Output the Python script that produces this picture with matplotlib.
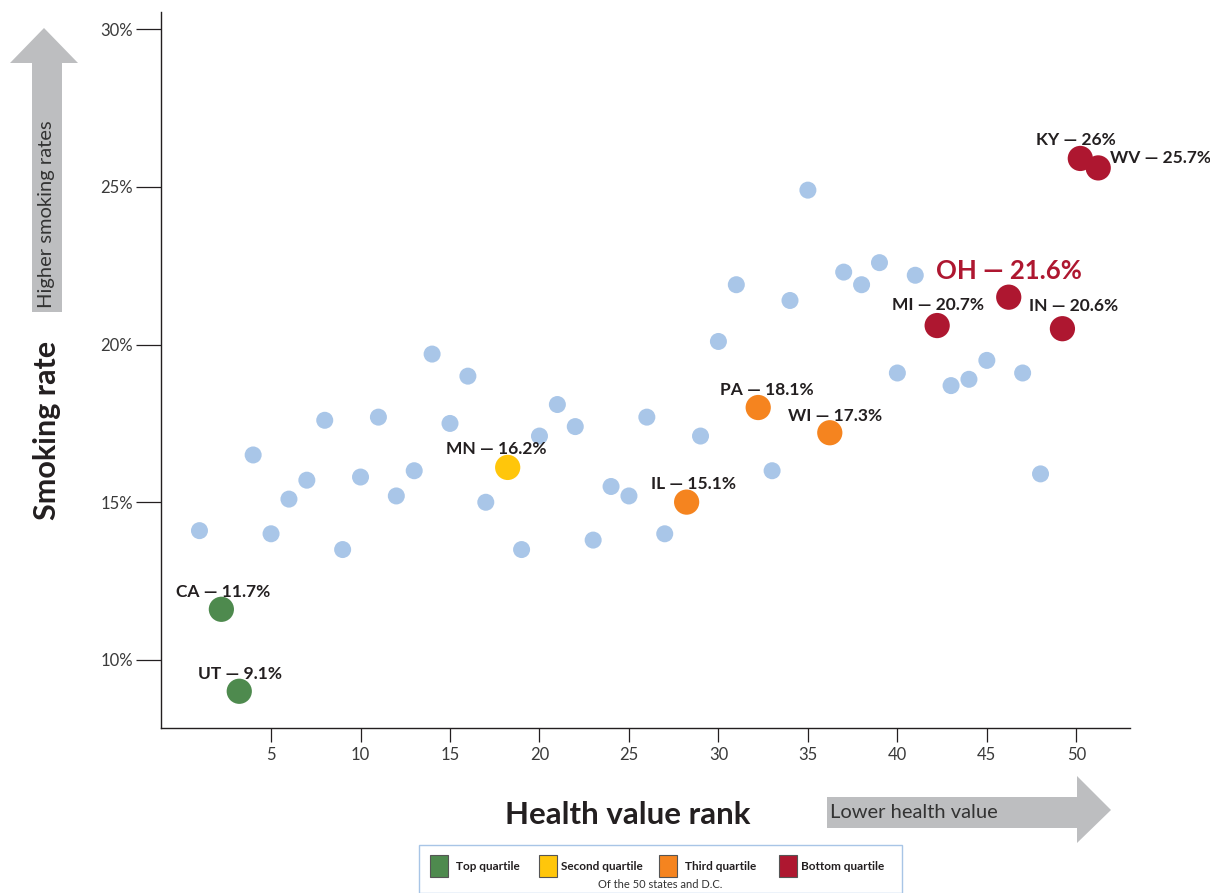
import matplotlib
matplotlib.use("Agg")
import matplotlib.pyplot as plt
from matplotlib.patches import Rectangle, Polygon
import matplotlib.transforms as mtransforms

plt.rcParams['font.family'] = ['Lato', 'DejaVu Sans']

# ---- data ----
ranks = [1, 4, 5, 6, 7, 8, 9, 10, 11, 12, 13, 14, 15, 16, 17, 19, 20, 21, 22, 23,
         24, 25, 26, 27, 29, 30, 31, 33, 34, 35, 37, 38, 39, 40, 41, 43, 44, 45, 47, 48]
rates = [14.1, 16.5, 14.0, 15.1, 15.7, 17.6, 13.5, 15.8, 17.7, 15.2, 16.0, 19.7, 17.5, 19.0, 15.0,
         13.5, 17.1, 18.1, 17.4, 13.8, 15.5, 15.2, 17.7, 14.0, 17.1, 20.1, 21.9, 16.0, 21.4, 24.9,
         22.3, 21.9, 22.6, 19.1, 22.2, 18.7, 18.9, 19.5, 19.1, 15.9]

hl_states = ['CA', 'UT', 'MN', 'IL', 'PA', 'WI', 'MI', 'OH', 'IN', 'KY', 'WV']
hl_ranks = [2, 3, 18, 28, 32, 36, 42, 46, 49, 50, 51]
hl_rates = [11.7, 9.1, 16.2, 15.1, 18.1, 17.3, 20.7, 21.6, 20.6, 26, 25.7]
hl_quart = ['Top', 'Top', 'Second', 'Third', 'Third', 'Third', 'Bottom', 'Bottom', 'Bottom', 'Bottom', 'Bottom']

quartiles = ['Top quartile', 'Second quartile', 'Third quartile', 'Bottom quartile']
qcolors = {'Top': '#4E8A4E', 'Second': '#FFC60B', 'Third': '#F5841F', 'Bottom': '#AE1730'}

xticks = [5, 10, 15, 20, 25, 30, 35, 40, 45, 50]
yticks = [10, 15, 20, 25, 30]

# label offsets (pixels) and alignment
lab_off = {'CA': (6, 14, 'center'), 'UT': (5, 14, 'center'), 'MN': (-7, 15, 'center'),
           'IL': (11, 15, 'center'), 'PA': (13, 15, 'center'), 'WI': (9, 14, 'center'),
           'MI': (5, 18, 'center'), 'OH': (4, 23, 'center'), 'IN': (15, 20, 'center'),
           'KY': (0, 15, 'center'), 'WV': (16, 7, 'left')}

fig = plt.figure(figsize=(12.1, 8.93), dpi=100)
ax = fig.add_axes([161/1210, 165/893, (1130-161)/1210, (881-165)/893])
ax.set_xlim(-1.15, 53.0)
ax.set_ylim(7.84, 30.55)

ax.scatter(ranks, rates, s=150, color='#A9C6E8', edgecolors='none', zorder=2)

off = mtransforms.ScaledTranslation(4/100, -3/100, fig.dpi_scale_trans)
for st, r, v, q in zip(hl_states, hl_ranks, hl_rates, hl_quart):
    ax.scatter([r], [v], s=330, color=qcolors[q], edgecolors='none', zorder=3,
               transform=ax.transData + off)
    dx, dy, ha = lab_off[st]
    txt = f"{st} \u2014 {v:g}%"
    if st == 'OH':
        ax.annotate(txt, (r, v), xytext=(dx, dy), textcoords='offset pixels',
                    ha=ha, va='center', fontsize=18.5, fontweight='bold', color='#AE1730', zorder=4)
    else:
        ax.annotate(txt, (r, v), xytext=(dx, dy), textcoords='offset pixels',
                    ha=ha, va='center', fontsize=12.5, fontweight='bold', color='#231F20', zorder=4)

for s in ['top', 'right']:
    ax.spines[s].set_visible(False)
for s in ['left', 'bottom']:
    ax.spines[s].set_color('#231F20')
    ax.spines[s].set_linewidth(1.0)

ax.set_xticks(xticks)
ax.set_xticklabels([str(t) for t in xticks])
ax.set_yticks(yticks)
ax.set_yticklabels([f"{t}%" for t in yticks])
ax.tick_params(axis='y', length=18, width=0.9, color='#231F20', labelsize=12, labelcolor='#3a3a3a', pad=2)
ax.tick_params(axis='x', length=10, width=0.9, color='#231F20', labelsize=12, labelcolor='#3a3a3a', pad=4)

# axis titles
fig.text(47/1210, 1 - 430/893, 'Smoking rate', rotation=90, ha='center', va='center',
         fontsize=22, fontweight='bold', color='#231F20')
fig.text(628/1210, 1 - 815/893, 'Health value rank', ha='center', va='center',
         fontsize=22.5, fontweight='bold', color='#231F20')

# gray arrows (figure pixel coords)
ga = '#BDBEC0'
W, H = 1210, 893
def fx(x): return x / W
def fy(y): return 1 - y / H

fig.patches.append(Rectangle((fx(32), fy(312)), 30/W, (312-60)/H, transform=fig.transFigure,
                             color=ga, lw=0, zorder=1))
fig.patches.append(Polygon([(fx(10), fy(63)), (fx(78), fy(63)), (fx(44), fy(28))],
                           closed=True, transform=fig.transFigure, color=ga, lw=0, zorder=1))
fig.text(fx(47), fy(214), 'Higher smoking rates', rotation=90, ha='center', va='center',
         fontsize=14.5, color='#333333', zorder=5)

fig.patches.append(Rectangle((fx(827), fy(828)), (1078-827)/W, 31/H, transform=fig.transFigure,
                             color=ga, lw=0, zorder=1))
fig.patches.append(Polygon([(fx(1077), fy(776)), (fx(1077), fy(843)), (fx(1111), fy(810))],
                           closed=True, transform=fig.transFigure, color=ga, lw=0, zorder=1))
fig.text(fx(830), fy(812), 'Lower health value', ha='left', va='center',
         fontsize=14.5, color='#333333', zorder=5)

# legend box
fig.patches.append(Rectangle((fx(419), fy(893)), (902-419)/W, (893-845)/H, transform=fig.transFigure,
                             facecolor='white', edgecolor='#A8C5E6', lw=1.0))
sw_x = [430, 539, 659, 779]
txt_x = [456, 561, 685, 801]
for q, name, sx, tx in zip(['Top', 'Second', 'Third', 'Bottom'], quartiles, sw_x, txt_x):
    fig.patches.append(Rectangle((fx(sx), fy(877)), 18/W, 22/H, transform=fig.transFigure,
                                 facecolor=qcolors[q], edgecolor='#555555', lw=0.8))
    fig.text(fx(tx), fy(866), name, ha='left', va='center', fontsize=8.5, fontweight='bold', color='#231F20')
fig.text(fx(660), fy(884), 'Of the 50 states and D.C.', ha='center', va='center', fontsize=8, color='#333333')

fig.savefig('out.png', dpi=100)
